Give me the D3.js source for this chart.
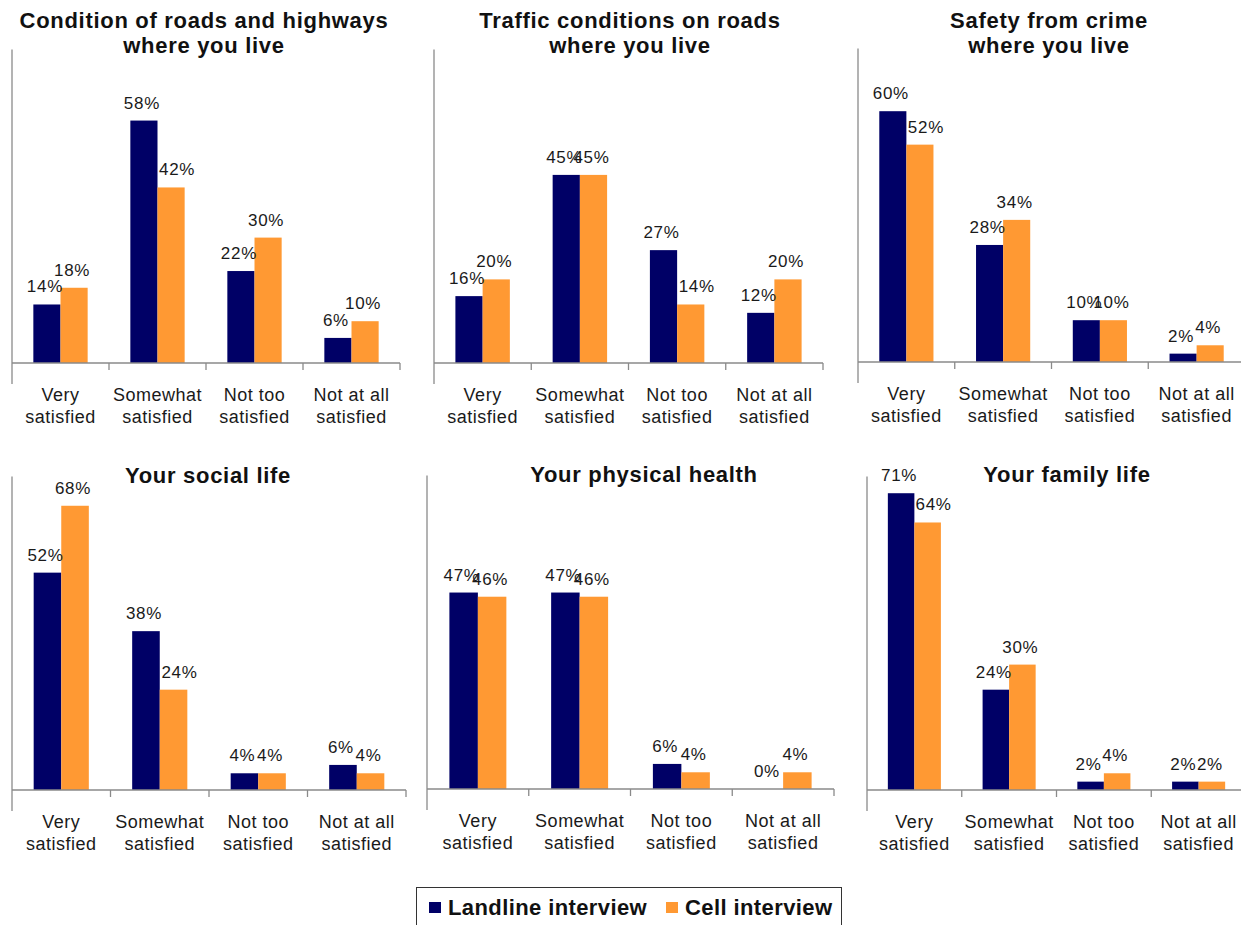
<!DOCTYPE html>
<html>
<head>
<meta charset="utf-8">
<script src="https://cdn.jsdelivr.net/npm/d3@7"></script>
<style>
  html, body { margin: 0; padding: 0; background: #fff; }
  svg { display: block; font-family: "Liberation Sans", Arial, sans-serif; }
</style>
</head>
<body>
<svg id="chart" width="1241" height="925"></svg>
<script>
// Satisfaction by interview mode, six survey items
const categories = ["Very satisfied", "Somewhat satisfied", "Not too satisfied", "Not at all satisfied"];
const categoryLines = [["Very", "satisfied"], ["Somewhat", "satisfied"], ["Not too", "satisfied"], ["Not at all", "satisfied"]];
const seriesNames = ["Landline interview", "Cell interview"];
const seriesColors = ["#000066", "#FF9933"];

const panelTitles = [
  ["Condition of roads and highways", "where you live"],
  ["Traffic conditions on roads", "where you live"],
  ["Safety from crime", "where you live"],
  ["Your social life"],
  ["Your physical health"],
  ["Your family life"]
];

const landlineValues = [
  [14, 58, 22, 6],
  [16, 45, 27, 12],
  [60, 28, 10, 2],
  [52, 38, 4, 6],
  [47, 47, 6, 0],
  [71, 24, 2, 2]
];

const cellValues = [
  [18, 42, 30, 10],
  [20, 45, 14, 20],
  [52, 34, 10, 4],
  [68, 24, 4, 4],
  [46, 46, 4, 4],
  [64, 30, 4, 2]
];

const yMax = 75;

// Panel frames: axis start/end, baseline, title placement
const layout = [
  { x0: 12,  x1: 400,  base: 363, titleX: 204,  titleY: 28 },
  { x0: 434, x1: 823,  base: 363, titleX: 630,  titleY: 28 },
  { x0: 858, x1: 1245, base: 362, titleX: 1049, titleY: 28 },
  { x0: 12,  x1: 406,  base: 790, titleX: 208,  titleY: 483 },
  { x0: 427, x1: 834,  base: 789, titleX: 644,  titleY: 482 },
  { x0: 867, x1: 1246, base: 790, titleX: 1067, titleY: 482 }
];

const svg = d3.select("#chart");
svg.append("rect").attr("width", 1241).attr("height", 925).attr("fill", "#fff");

const axisColor = "#8a8a8a";
const plotHeight = 313.5;

layout.forEach((L, i) => {
  const g = svg.append("g");

  const x = d3.scaleBand().domain(categories).range([L.x0, L.x1]).padding(0);
  const xs = d3.scaleBand().domain(seriesNames).range([0, x.bandwidth()])
    .paddingInner(0).paddingOuter(0.786);
  const y = d3.scaleLinear().domain([0, yMax]).range([L.base, L.base - plotHeight]);

  // Title
  const title = g.append("text")
    .attr("x", L.titleX).attr("y", L.titleY)
    .attr("text-anchor", "middle")
    .attr("font-weight", "bold").attr("font-size", 22)
    .attr("letter-spacing", 0.7).attr("fill", "#111");
  panelTitles[i].forEach((line, k) => {
    title.append("tspan").attr("x", L.titleX).attr("dy", k === 0 ? 0 : 25).text(line);
  });

  // Bars
  const rows = categories.map((c, j) => ({
    cat: c,
    vals: [landlineValues[i][j], cellValues[i][j]]
  }));

  const groups = g.selectAll("g.cat").data(rows).join("g")
    .attr("class", "cat")
    .attr("transform", d => `translate(${x(d.cat)},0)`);

  groups.selectAll("rect")
    .data(d => d.vals.map((v, s) => ({ v, s, other: d.vals[0] })))
    .join("rect")
    .attr("x", d => xs(seriesNames[d.s]))
    .attr("width", xs.bandwidth())
    .attr("y", d => y(d.v))
    .attr("height", d => y(0) - y(d.v))
    .attr("fill", d => seriesColors[d.s]);

  // Value labels; a cell label sitting well below the landline bar is nudged
  // right so it clears the taller neighbouring bar
  groups.selectAll("text.val")
    .data(d => d.vals.map((v, s) => ({ v, s, other: d.vals[0] })))
    .join("text")
    .attr("class", "val")
    .attr("x", d => {
      const cx = xs(seriesNames[d.s]) + xs.bandwidth() / 2;
      const nudge = (d.s === 1 && d.other - d.v >= 5) ? 6 : -2;
      return cx + nudge;
    })
    .attr("y", d => y(d.v) - 12)
    .attr("text-anchor", "middle")
    .attr("font-size", 17).attr("letter-spacing", 0.7)
    .attr("fill", "#1a1a1a")
    .text(d => d.v + "%");

  // Vertical axis line
  g.append("line")
    .attr("x1", L.x0).attr("x2", L.x0)
    .attr("y1", y(yMax)).attr("y2", L.base + 21)
    .attr("stroke", axisColor).attr("stroke-width", 1.3);

  // Category axis with boundary ticks
  const xAxis = d3.axisBottom(x).tickSize(0).tickPadding(0).tickFormat("");
  const ax = g.append("g").attr("transform", `translate(0,${L.base})`).call(xAxis);
  ax.select(".domain").attr("stroke", axisColor).attr("stroke-width", 1.3)
    .attr("d", `M${L.x0},0H${L.x1}`);

  ax.selectAll(".boundary")
    .data(categories.map(c => x(c) + x.bandwidth()))
    .join("line")
    .attr("class", "boundary")
    .attr("x1", d => d).attr("x2", d => d)
    .attr("y1", 0).attr("y2", 7)
    .attr("stroke", axisColor).attr("stroke-width", 1.3);

  ax.selectAll(".tick").each(function (c) {
    const t = d3.select(this).select("text")
      .attr("font-size", 18).attr("letter-spacing", 0.5)
      .attr("fill", "#1a1a1a").attr("font-family", "Liberation Sans, Arial, sans-serif")
      .attr("dy", null).attr("y", 0);
    t.text(null);
    categoryLines[categories.indexOf(c)].forEach((line, k) => {
      t.append("tspan").attr("x", 0).attr("y", k === 0 ? 38 : 60).text(line);
    });
  });
});

// Legend
const legend = svg.append("g");
legend.append("rect")
  .attr("x", 416.5).attr("y", 887.5).attr("width", 425).attr("height", 50)
  .attr("fill", "#fff").attr("stroke", "#333").attr("stroke-width", 1);

const legendItems = [
  { name: seriesNames[0], color: seriesColors[0], sx: 429, tx: 448 },
  { name: seriesNames[1], color: seriesColors[1], sx: 666, tx: 685 }
];
legendItems.forEach(it => {
  legend.append("rect")
    .attr("x", it.sx).attr("y", 902).attr("width", 12).attr("height", 11)
    .attr("fill", it.color);
  legend.append("text")
    .attr("x", it.tx).attr("y", 915)
    .attr("font-size", 22).attr("font-weight", "bold").attr("letter-spacing", 0.4)
    .attr("fill", "#111")
    .text(it.name);
});
</script>
</body>
</html>
